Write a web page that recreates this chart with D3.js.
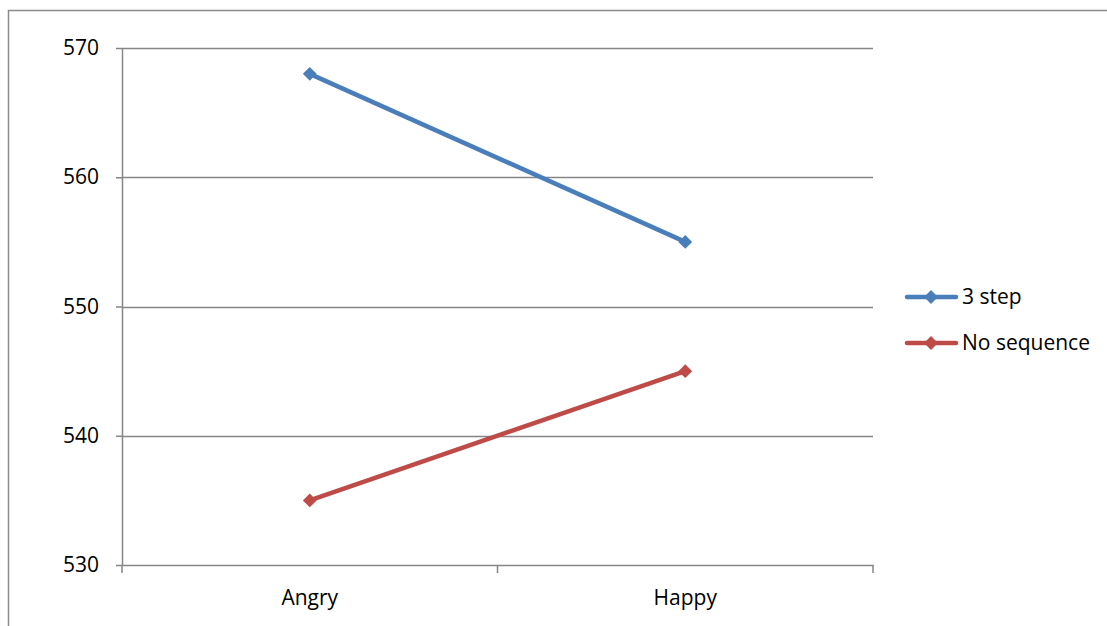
<!DOCTYPE html>
<html>
<head>
<meta charset="utf-8">
<script src="https://cdn.jsdelivr.net/npm/d3@7"></script>
<style>
  body { margin: 0; background: #fff; }
  text { font-family: "Open Sans", "Liberation Sans", sans-serif; }
</style>
</head>
<body>
<div id="chart"></div>
<script>
// data
var categories = ['Angry', 'Happy'];
var seriesNames = ['3 step', 'No sequence'];
var threeStep = [568, 555];
var noSequence = [535, 545];
var yTicks = [530, 540, 550, 560, 570];
var colors = ['#4a7ebb', '#be4b48'];

var series = [threeStep, noSequence];

// dimensions
var dimensions = {
  width: 1107,
  height: 626,
  margin: { top: 48, bottom: 61, left: 122, right: 234 }
};
dimensions.containerWidth = dimensions.width - dimensions.margin.left - dimensions.margin.right;
dimensions.containerHeight = dimensions.height - dimensions.margin.top - dimensions.margin.bottom;

var fontSize = 21;

var svg = d3.select('#chart')
  .append('svg')
  .attr('width', dimensions.width)
  .attr('height', dimensions.height);

// outer chart border
svg.append('rect')
  .attr('x', 8.5)
  .attr('y', 10.5)
  .attr('width', 1110)
  .attr('height', 630)
  .attr('fill', 'none')
  .attr('stroke', '#8c8c8c')
  .attr('stroke-width', 1.5);

var container = svg.append('g')
  .attr('transform', 'translate(' + dimensions.margin.left + ',' + dimensions.margin.top + ')');

// scales
var xScale = d3.scaleBand()
  .domain(categories)
  .range([0, dimensions.containerWidth]);

var yScale = d3.scaleLinear()
  .domain([530, 570])
  .range([dimensions.containerHeight, 0]);

// gridlines
container.append('g')
  .selectAll('line')
  .data(yTicks.slice(1))
  .join('line')
  .attr('x1', 0)
  .attr('x2', dimensions.containerWidth)
  .attr('y1', d => Math.round(yScale(d)) + 0.5)
  .attr('y2', d => Math.round(yScale(d)) + 0.5)
  .attr('stroke', '#868686')
  .attr('stroke-width', 1.5);

// y axis
var yAxis = d3.axisLeft(yScale)
  .tickValues(yTicks)
  .tickSize(6)
  .tickPadding(17)
  .tickSizeOuter(0);

var yAxisGroup = container.append('g').call(yAxis);
yAxisGroup.select('.domain').attr('stroke', '#868686').attr('stroke-width', 1.5);
yAxisGroup.selectAll('.tick line').attr('stroke', '#868686').attr('stroke-width', 1.5);
yAxisGroup.selectAll('.tick text')
  .attr('font-size', fontSize)
  .attr('fill', '#000')
  .style('font-family', '"Open Sans", sans-serif');

// x axis
var xAxis = d3.axisBottom(xScale)
  .tickSize(0)
  .tickPadding(25)
  .tickSizeOuter(0);

var xAxisGroup = container.append('g')
  .attr('transform', 'translate(0,' + dimensions.containerHeight + ')')
  .call(xAxis);
xAxisGroup.select('.domain').attr('stroke', '#868686').attr('stroke-width', 1.5);
xAxisGroup.selectAll('.tick text')
  .attr('font-size', fontSize)
  .attr('fill', '#000')
  .style('font-family', '"Open Sans", sans-serif');

// x category boundary ticks
var boundaries = [0].concat(categories.map(c => xScale(c) + xScale.bandwidth()));
xAxisGroup.selectAll('.bound')
  .data(boundaries)
  .join('line')
  .attr('class', 'bound')
  .attr('x1', d => d)
  .attr('x2', d => d)
  .attr('y1', 0)
  .attr('y2', 8)
  .attr('stroke', '#868686')
  .attr('stroke-width', 1.5);

// lines
var xCenter = (d, i) => xScale(categories[i]) + xScale.bandwidth() / 2;
var line = d3.line()
  .x(xCenter)
  .y(d => yScale(d));

// diamond marker: a square turned by 45 degrees
var marker = d3.symbol().type(d3.symbolSquare).size(95);

series.forEach(function(values, si) {
  container.append('path')
    .datum(values)
    .attr('fill', 'none')
    .attr('stroke', colors[si])
    .attr('stroke-width', 4.5)
    .attr('stroke-linecap', 'round')
    .attr('d', line);

  container.append('g')
    .selectAll('path')
    .data(values)
    .join('path')
    .attr('d', marker)
    .attr('transform', (d, i) => 'translate(' + xCenter(d, i) + ',' + yScale(d) + ') rotate(45)')
    .attr('fill', colors[si]);
});

// legend
var legend = svg.append('g')
  .attr('transform', 'translate(905,297)');

var legendItems = legend.selectAll('g')
  .data(seriesNames)
  .join('g')
  .attr('transform', (d, i) => 'translate(0,' + i * 46 + ')');

legendItems.append('line')
  .attr('x1', 2)
  .attr('x2', 51)
  .attr('y1', 0)
  .attr('y2', 0)
  .attr('stroke', (d, i) => colors[i])
  .attr('stroke-width', 4.5)
  .attr('stroke-linecap', 'round');

legendItems.append('path')
  .attr('d', marker)
  .attr('transform', 'translate(26,0) rotate(45)')
  .attr('fill', (d, i) => colors[i]);

legendItems.append('text')
  .attr('x', 57)
  .attr('y', 0)
  .attr('dy', '0.35em')
  .attr('font-size', fontSize)
  .attr('fill', '#000')
  .text(d => d);
</script>
</body>
</html>
